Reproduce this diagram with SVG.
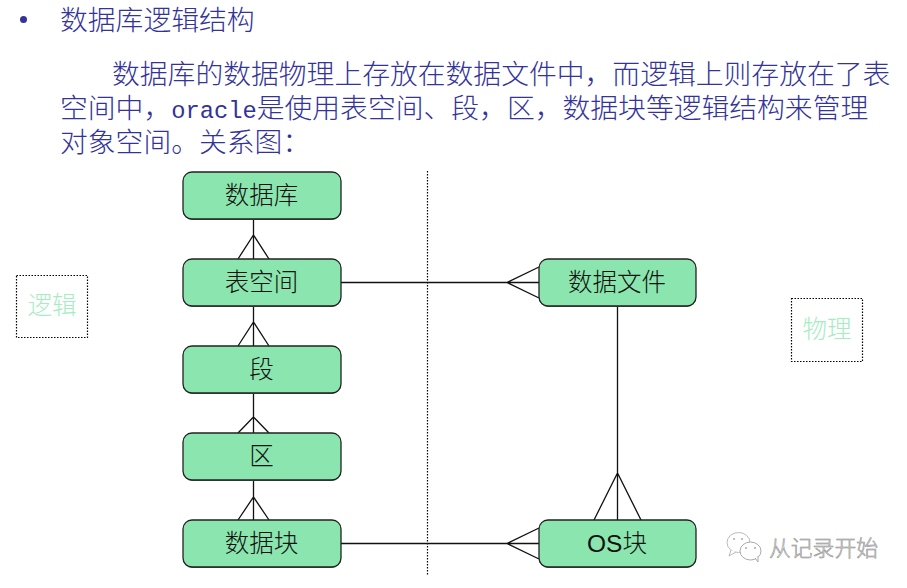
<svg xmlns="http://www.w3.org/2000/svg" width="907" height="588" viewBox="0 0 907 588">
<defs><style>
.h{font-family:"Noto Sans CJK SC","Liberation Serif",sans-serif;font-weight:300;font-size:27.8px;fill:#333399}
.m{font-family:"Liberation Mono","Noto Sans CJK SC",monospace;font-size:23.750px;font-weight:400;fill:#333399}
.b{fill:#8be5ae;stroke:#222;stroke-width:1.3}
.s{fill:#666}
.t{font-family:"Noto Sans CJK SC","Liberation Sans",sans-serif;font-weight:300;font-size:24.5px;fill:#111;text-anchor:middle}
.l{fill:none;stroke:#111;stroke-width:1.3}
.d{fill:none;stroke:#000;stroke-width:1.2;stroke-dasharray:1.5 1.5}
.g{font-family:"Noto Sans CJK SC","Liberation Sans",sans-serif;font-weight:300;font-size:24.5px;fill:#a5ecc2;text-anchor:middle}
</style></defs>
<rect width="907" height="588" fill="#fff"/>
<g id="text">
<circle cx="23.500" cy="19.500" r="3.500" fill="#333399"/>
<text class="h" x="60" y="30">数据库逻辑结构</text>
<text class="h" x="112" y="84">数据库的数据物理上存放在数据文件中&#xFF0C;而逻辑上则存放在了表</text>
<text class="h" x="60" y="118">空间中&#xFF0C;<tspan class="m">oracle</tspan>是使用表空间、段&#xFF0C;区&#xFF0C;数据块等逻辑结构来管理</text>
<text class="h" x="60" y="152">对象空间。关系图&#xFF1A;</text>
</g>
<g id="connectors">
<path class="d" d="M427.500 171V575"/>
<path class="l" d="M253.500 219V259M238 259L253.500 235L269 259"/>
<path class="l" d="M253.500 306V346M238 346L253.500 322L269 346"/>
<path class="l" d="M253.500 393V433M238 433L253.500 417L269 433"/>
<path class="l" d="M253.500 480V520M238 520L253.500 497L269 520"/>
<path class="l" d="M341 282.500H539M539 267L507 282.500L539 298"/>
<path class="l" d="M341 543.500H539M539 528L507 543.500L539 559"/>
<path class="l" d="M617.500 306V520M594 520L617.500 473L641 520"/>
</g>
<g id="n-db"><rect class="s" x="183" y="173" width="158" height="47" rx="9"/><rect class="b" x="183" y="172" width="158" height="47" rx="9"/><text class="t" x="261.500" y="204">数据库</text></g>
<g id="n-ts"><rect class="s" x="183" y="260" width="158" height="47" rx="9"/><rect class="b" x="183" y="259" width="158" height="47" rx="9"/><text class="t" x="261.500" y="291">表空间</text></g>
<g id="n-seg"><rect class="s" x="183" y="347" width="158" height="47" rx="9"/><rect class="b" x="183" y="346" width="158" height="47" rx="9"/><text class="t" x="261.500" y="378">段</text></g>
<g id="n-ext"><rect class="s" x="183" y="434" width="158" height="47" rx="9"/><rect class="b" x="183" y="433" width="158" height="47" rx="9"/><text class="t" x="261.500" y="465">区</text></g>
<g id="n-blk"><rect class="s" x="183" y="521" width="158" height="47" rx="9"/><rect class="b" x="183" y="520" width="158" height="47" rx="9"/><text class="t" x="261.500" y="552">数据块</text></g>
<g id="n-file"><rect class="s" x="539" y="260" width="157" height="47" rx="9"/><rect class="b" x="539" y="259" width="157" height="47" rx="9"/><text class="t" x="617" y="291">数据文件</text></g>
<g id="n-os"><rect class="s" x="539" y="521" width="157" height="47" rx="9"/><rect class="b" x="539" y="520" width="157" height="47" rx="9"/><text class="t" x="617" y="552"><tspan font-family="Liberation Sans" font-weight="400">OS</tspan>块</text></g>
<g id="n-logic"><rect class="d" x="16.500" y="275.500" width="71" height="62"/><text class="g" x="52" y="314">逻辑</text></g>
<g id="n-phys"><rect class="d" x="791.500" y="298.500" width="71" height="63"/><text class="g" x="827" y="338">物理</text></g>
<g id="watermark">
<ellipse cx="738.500" cy="542.500" rx="11.500" ry="10" fill="#fff" stroke="#bbb"/>
<path d="M731 550L729 556L736 552" fill="#fff" stroke="#bbb"/>
<ellipse cx="750.500" cy="551" rx="10.500" ry="9" fill="#fff" stroke="#aaa"/>
<path d="M755 558L758 562L758 556" fill="#fff" stroke="#aaa"/>
<circle cx="734" cy="539" r="1" fill="#aaa"/><circle cx="742" cy="539" r="1" fill="#aaa"/>
<circle cx="746" cy="548" r="1" fill="#aaa"/><circle cx="755" cy="548" r="1" fill="#aaa"/>
<text x="769" y="556" font-family="Noto Sans CJK SC,sans-serif" font-size="21.800" font-weight="300" fill="#e2e2e2" stroke="#888" stroke-width=".5">从记录开始</text>
</g>
</svg>
